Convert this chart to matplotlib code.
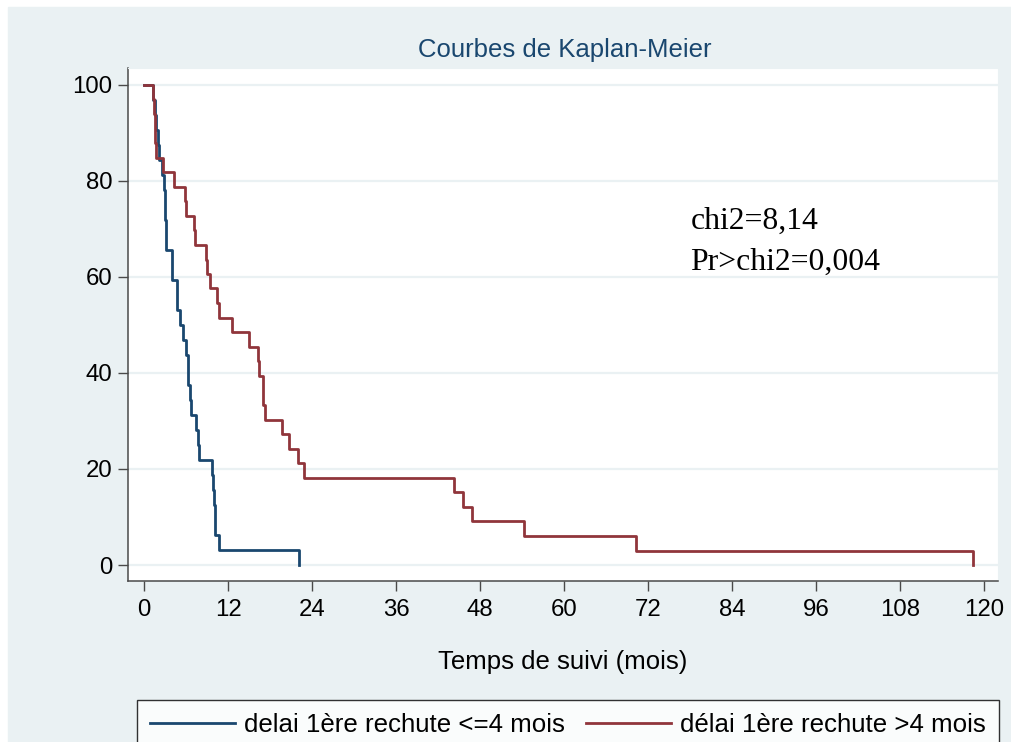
import matplotlib
matplotlib.use("Agg")
import matplotlib.pyplot as plt
from matplotlib.patches import Rectangle

# Kaplan-Meier data (time in months, survival in %)
times_le4 = [0, 1.3, 1.55, 1.7, 1.9, 2.15, 2.5, 2.8, 3.0, 3.0, 3.05, 3.05,
             3.9, 3.95, 4.6, 4.65, 5.1, 5.55, 5.96, 6.2, 6.25, 6.55, 6.6,
             7.33, 7.7, 7.75, 9.63, 9.87, 9.9, 10.1, 10.15, 10.67, 22.1]
surv_le4 = [100, 96.9, 93.8, 90.6, 87.5, 84.4, 81.3, 78.1, 75.0, 71.9, 68.8,
            65.6, 62.5, 59.4, 56.3, 53.1, 50.0, 46.9, 43.8, 40.6, 37.5, 34.4,
            31.3, 28.1, 25.0, 21.9, 18.8, 15.6, 12.5, 9.4, 6.3, 3.1, 0]

times_gt4 = [0, 1.3, 1.4, 1.5, 1.55, 1.65, 2.6, 4.2, 5.8, 5.95, 7.1, 7.25,
             8.8, 9.0, 9.4, 10.4, 10.6, 12.5, 14.9, 16.2, 16.4, 16.9, 17.0,
             17.2, 19.6, 20.7, 21.9, 22.8, 44.3, 45.6, 46.8, 54.2, 70.2, 118.4]
surv_gt4 = [100, 97.0, 93.9, 90.9, 87.9, 84.8, 81.8, 78.8, 75.8, 72.7, 69.7,
            66.7, 63.6, 60.6, 57.6, 54.5, 51.5, 48.5, 45.5, 42.4, 39.4, 36.4,
            33.3, 30.3, 27.3, 24.2, 21.2, 18.2, 15.2, 12.1, 9.1, 6.1, 3.0, 0]

labels = ["delai 1ère rechute <=4 mois", "délai 1ère rechute >4 mois"]
xticks = list(range(0, 121, 12))
yticks = list(range(0, 101, 20))

bg = "#eaf1f3"
blue = "#1a476f"
red = "#90353b"

plt.rcParams['font.family'] = ['Liberation Sans', 'DejaVu Sans']

fig = plt.figure(figsize=(10.11, 7.42), dpi=100, facecolor="white")
fig.patches.append(Rectangle((8 / 1011, 0), 1, 1 - 7 / 742,
                             transform=fig.transFigure, color=bg, zorder=-10))

ax = fig.add_axes([128 / 1011, 1 - 581 / 742, 870 / 1011, 513 / 742])
ax.set_facecolor("white")

l1, = ax.step(times_le4, surv_le4, where="post", color=blue, lw=2.0)
l2, = ax.step(times_gt4, surv_gt4, where="post", color=red, lw=2.0)

ax.set_xlim(-2.33, 121.96)
ax.set_ylim(-3.33, 103.5)
ax.set_xticks(xticks)
ax.set_yticks(yticks)
ax.grid(True, axis="y", color=bg, lw=1.6)
ax.set_axisbelow(True)

for s in ["top", "right"]:
    ax.spines[s].set_color(bg)
    ax.spines[s].set_linewidth(0.8)
for s in ["left", "bottom"]:
    ax.spines[s].set_color("#4a4a4a")
    ax.spines[s].set_linewidth(1.1)

ax.tick_params(axis="both", length=7, width=1.0, color="#4a4a4a",
               labelsize=17.3, labelcolor="black")
ax.tick_params(axis="y", pad=4)
ax.tick_params(axis="x", pad=6)

ax.set_xlabel("Temps de suivi (mois)", fontsize=18.5)
ax.xaxis.set_label_coords(0.5, (581 - 662) / 513)
ax.xaxis.label.set_va("center")

fig.text(565 / 1011, 1 - 50 / 742, "Courbes de Kaplan-Meier", ha="center",
         va="center", fontsize=18.5, color=blue)

ax.text(78.0, 71.5, "chi2=8,14", family="Liberation Serif", fontsize=22.8,
        va="center", ha="left")
ax.text(78.0, 63.1, "Pr>chi2=0,004", family="Liberation Serif", fontsize=22.8,
        va="center", ha="left")

leg = fig.legend([l1, l2], labels, loc="upper left",
                 bbox_to_anchor=(137 / 1011, 1 - 700 / 742), ncol=2,
                 fontsize=18.6, frameon=True, fancybox=False,
                 handlelength=3.3, handletextpad=0.35, columnspacing=0.8,
                 borderpad=0.5, borderaxespad=0)
leg.get_frame().set_edgecolor("black")
leg.get_frame().set_linewidth(1.0)
leg.get_frame().set_facecolor("white")

fig.savefig("out.png", dpi=100, facecolor=fig.get_facecolor())
